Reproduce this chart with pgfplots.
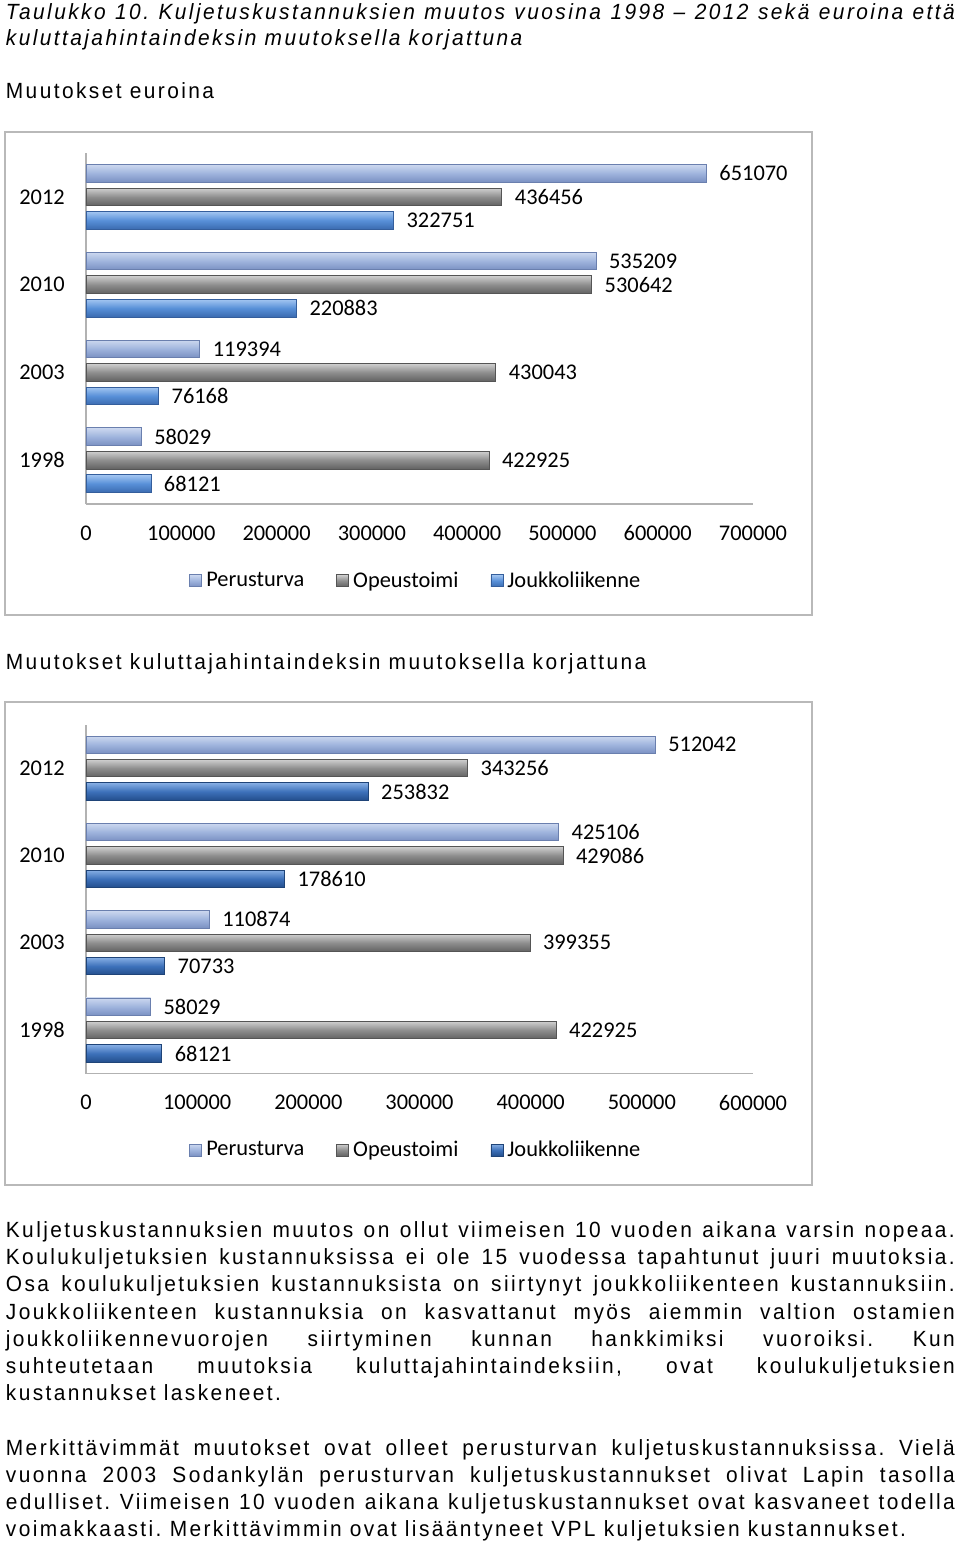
\documentclass[border=0pt]{standalone}
\usepackage{fontspec}
\usepackage{pgfplots}
\pgfplotsset{compat=1.18}
\setmainfont{Liberation Sans}
\newfontfamily\bodyfont[FakeStretch=0.95,LetterSpace=11]{Liberation Sans}
\newfontfamily\chartfont{Carlito}
\newcommand\cf{\chartfont\fontsize{11.2}{13}\selectfont}
\newcommand\bodyf{\bodyfont\fontsize{11}{13}\selectfont\frenchspacing}

\definecolor{pA}{HTML}{CCD8EF}\definecolor{pB}{HTML}{9FB4DD}\definecolor{pC}{HTML}{7A90C2}\definecolor{pE}{HTML}{6A7FAE}
\definecolor{gA}{HTML}{CFCFCF}\definecolor{gB}{HTML}{8E8E8E}\definecolor{gC}{HTML}{626262}\definecolor{gE}{HTML}{555555}
\definecolor{jA}{HTML}{A2C5F1}\definecolor{jB}{HTML}{5890D8}\definecolor{jC}{HTML}{3B6BB0}\definecolor{jE}{HTML}{345E9C}
\definecolor{kA}{HTML}{86AEE4}\definecolor{kB}{HTML}{3D71BA}\definecolor{kC}{HTML}{234E8C}\definecolor{kE}{HTML}{1F4478}

\pgfplotsset{
  chart/.style={
    xbar, scale only axis, width=333.5pt,
    xmin=0, ymin=-0.5, ymax=3.5,
    bar width=0.2,
    axis x line*=bottom, axis y line*=left,
    axis line style={draw=gray!60, line width=0.6pt, -},
    major tick length=0pt,
    ytick={0,1,2,3}, yticklabels={1998,2003,2010,2012},
    scaled x ticks=false,
    xticklabel={\pgfmathprintnumber[fixed,precision=0,1000 sep={},assume math mode=true]{\tick}},
    tick label style={font=\cf},
    xticklabel style={anchor=center, yshift=-14.5pt},
    yticklabel style={anchor=center, xshift=-22pt},
    nodes near coords, point meta=explicit symbolic,
    every node near coord/.append style={font=\cf, anchor=west, xshift=3pt},
    clip=false,
    legend style={at={(0.496,-0.219)}, anchor=center, draw=none, fill=none,
      legend columns=3, font=\cf, /tikz/every even column/.append style={column sep=14pt}},
  },
  limg/.style={legend image code/.code={\draw[##1] (0pt,-3pt) rectangle (6pt,3pt);}},
  sP/.style={top color=pA, bottom color=pC, middle color=pB, draw=pE},
  sG/.style={top color=gA, bottom color=gC, middle color=gB, draw=gE},
  sJ/.style={top color=jA, bottom color=jC, middle color=jB, draw=jE},
  sK/.style={top color=kA, bottom color=kC, middle color=kB, draw=kE},
}
% one bar: style, shift, value, category
\newcommand\hb[4]{\addplot[#1, bar shift=#2, forget plot] coordinates {(#3,#4) [#3]};}

\begin{document}
\begin{tikzpicture}
\useasboundingbox (0,0) rectangle (480pt,-772.5pt);
\fill[white] (0,0) rectangle (480pt,-772.5pt);

% texts
\node[anchor=base west, inner sep=0] at (2.75pt,-10pt) {\makebox[474.5pt][s]{\bodyf\itshape Taulukko 10. Kuljetuskustannuksien muutos vuosina 1998 – 2012 sekä euroina että}};
\node[anchor=base west, inner sep=0] at (2.75pt,-23pt) {\bodyf\itshape kuluttajahintaindeksin muutoksella korjattuna};
\node[anchor=base west, inner sep=0] at (2.75pt,-49.5pt) {\bodyf Muutokset euroina};
\node[anchor=base west, inner sep=0] at (2.75pt,-334.5pt) {\bodyf Muutokset kuluttajahintaindeksin muutoksella korjattuna};

\node[anchor=base west, inner sep=0] at (2.75pt,-618.5pt) {\makebox[474.5pt][s]{\bodyf Kuljetuskustannuksien muutos on ollut viimeisen 10 vuoden aikana varsin nopeaa.}};
\node[anchor=base west, inner sep=0] at (2.75pt,-632pt) {\makebox[474.5pt][s]{\bodyf Koulukuljetuksien kustannuksissa ei ole 15 vuodessa tapahtunut juuri muutoksia.}};
\node[anchor=base west, inner sep=0] at (2.75pt,-645.5pt) {\makebox[474.5pt][s]{\bodyf Osa koulukuljetuksien kustannuksista on siirtynyt joukkoliikenteen kustannuksiin.}};
\node[anchor=base west, inner sep=0] at (2.75pt,-659.5pt) {\makebox[474.5pt][s]{\bodyf Joukkoliikenteen kustannuksia on kasvattanut myös aiemmin valtion ostamien}};
\node[anchor=base west, inner sep=0] at (2.75pt,-673pt) {\makebox[474.5pt][s]{\bodyf joukkoliikennevuorojen siirtyminen kunnan hankkimiksi vuoroiksi. Kun}};
\node[anchor=base west, inner sep=0] at (2.75pt,-686.5pt) {\makebox[474.5pt][s]{\bodyf suhteutetaan muutoksia kuluttajahintaindeksiin, ovat koulukuljetuksien}};
\node[anchor=base west, inner sep=0] at (2.75pt,-700pt) {\bodyf kustannukset laskeneet.};

\node[anchor=base west, inner sep=0] at (2.75pt,-727.5pt) {\makebox[474.5pt][s]{\bodyf Merkittävimmät muutokset ovat olleet perusturvan kuljetuskustannuksissa. Vielä}};
\node[anchor=base west, inner sep=0] at (2.75pt,-741pt) {\makebox[474.5pt][s]{\bodyf vuonna 2003 Sodankylän perusturvan kuljetuskustannukset olivat Lapin tasolla}};
\node[anchor=base west, inner sep=0] at (2.75pt,-754.5pt) {\makebox[474.5pt][s]{\bodyf edulliset. Viimeisen 10 vuoden aikana kuljetuskustannukset ovat kasvaneet todella}};
\node[anchor=base west, inner sep=0] at (2.75pt,-768pt) {\bodyf voimakkaasti. Merkittävimmin ovat lisääntyneet VPL kuljetuksien kustannukset.};

% frames
\draw[gray!55, line width=1pt] (2.5pt,-66pt) rectangle (406pt,-307.5pt);
\draw[gray!55, line width=1pt] (2.5pt,-351pt) rectangle (406pt,-592.5pt);

% chart 1
\begin{axis}[chart, at={(43pt,-252pt)}, anchor=south west, height=175.5pt,
  xmax=700000, xtick={0,100000,...,700000}]
\hb{sP}{0.268}{58029}{0}
\hb{sP}{0.268}{119394}{1}
\hb{sP}{0.268}{535209}{2}
\hb{sP}{0.268}{651070}{3}
\hb{sG}{0}{422925}{0}
\hb{sG}{0}{430043}{1}
\hb{sG}{0}{530642}{2}
\hb{sG}{0}{436456}{3}
\hb{sJ}{-0.268}{68121}{0}
\hb{sJ}{-0.268}{76168}{1}
\hb{sJ}{-0.268}{220883}{2}
\hb{sJ}{-0.268}{322751}{3}
\addlegendimage{sP, limg}
\addlegendimage{sG, limg}
\addlegendimage{sJ, limg}
\legend{Perusturva,Opeustoimi,Joukkoliikenne}
\end{axis}

% chart 2
\begin{axis}[chart, at={(43pt,-536.85pt)}, anchor=south west, height=174.6pt,
  xmax=600000, xtick={0,100000,...,600000}]
\hb{sP}{0.268}{58029}{0}
\hb{sP}{0.268}{110874}{1}
\hb{sP}{0.268}{425106}{2}
\hb{sP}{0.268}{512042}{3}
\hb{sG}{0}{422925}{0}
\hb{sG}{0}{399355}{1}
\hb{sG}{0}{429086}{2}
\hb{sG}{0}{343256}{3}
\hb{sK}{-0.268}{68121}{0}
\hb{sK}{-0.268}{70733}{1}
\hb{sK}{-0.268}{178610}{2}
\hb{sK}{-0.268}{253832}{3}
\addlegendimage{sP, limg}
\addlegendimage{sG, limg}
\addlegendimage{sK, limg}
\legend{Perusturva,Opeustoimi,Joukkoliikenne}
\end{axis}
\end{tikzpicture}
\end{document}
